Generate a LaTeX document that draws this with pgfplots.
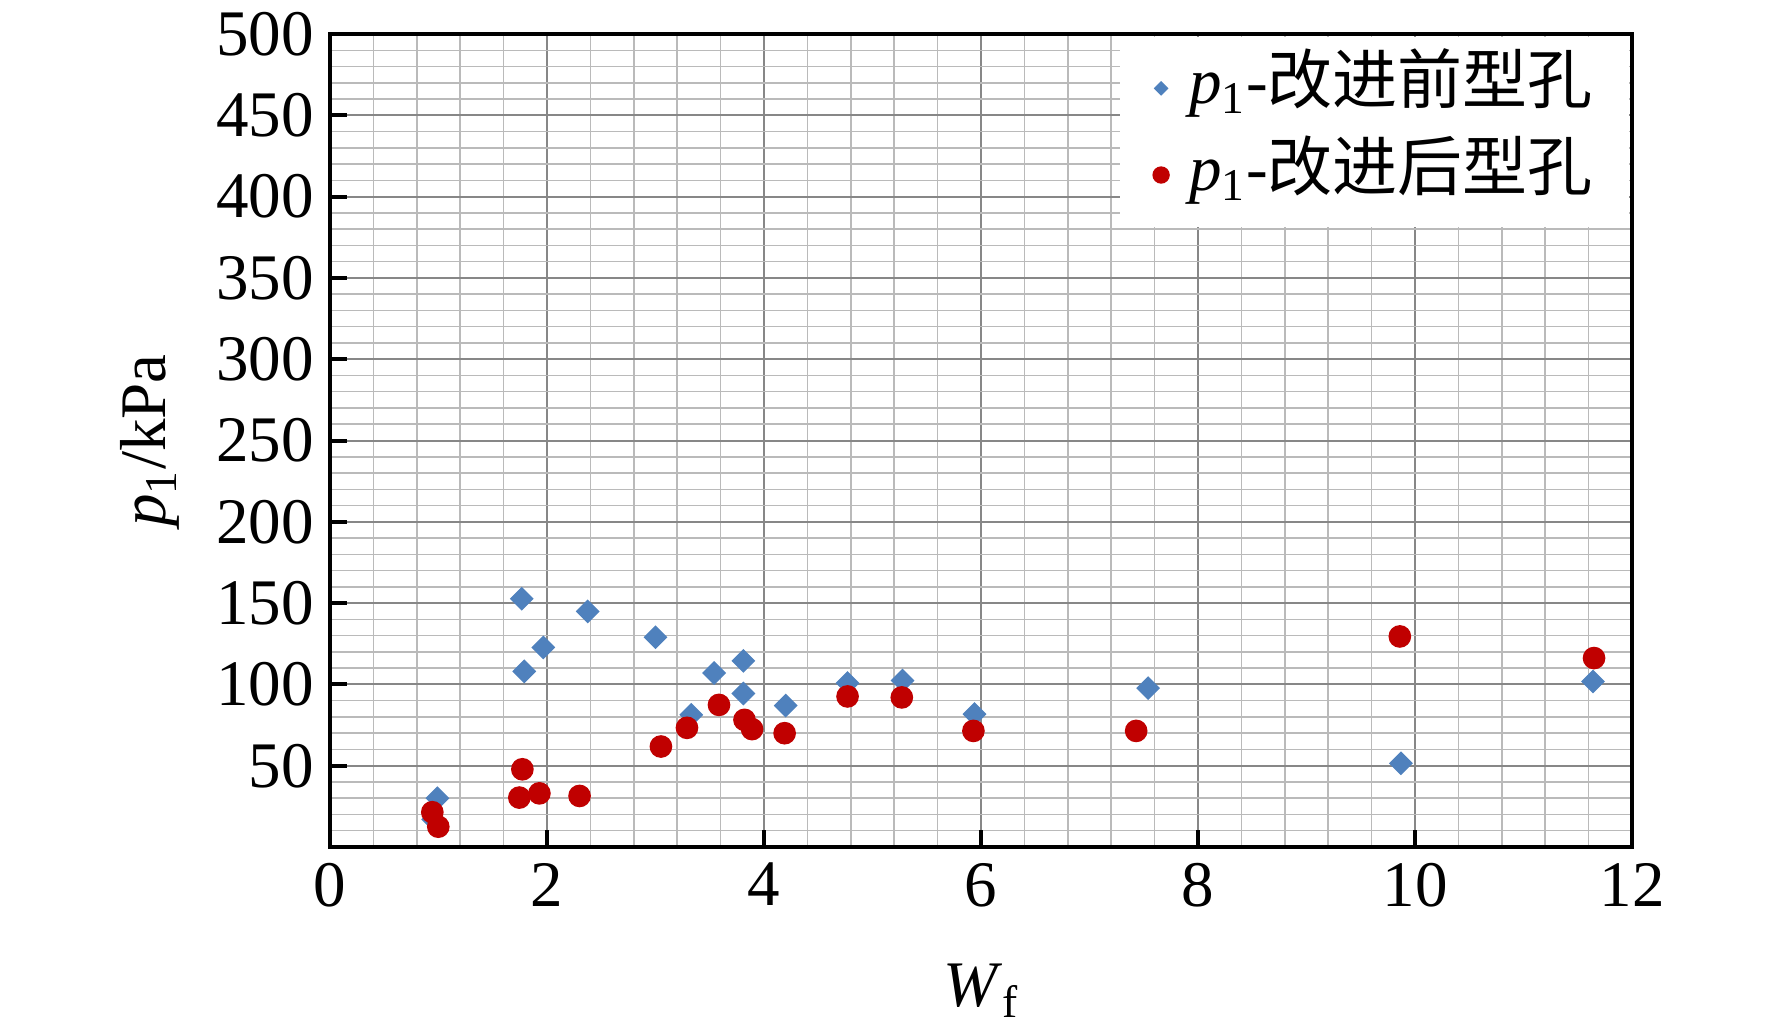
\documentclass[border=0pt]{standalone}
\usepackage{fontspec}
\setmainfont{Liberation Serif}
\newfontfamily\cjk{Noto Sans CJK SC}
\usepackage{pgfplots}
\pgfplotsset{compat=1.18}
\definecolor{myblue}{RGB}{79,129,189}
\definecolor{myred}{RGB}{192,0,0}
\newcommand{\fs}{\fontsize{19.5pt}{23pt}\selectfont}
\begin{document}
\begin{tikzpicture}
\useasboundingbox (0,0) rectangle (531.6pt,307.8pt);
\begin{axis}[
  at={(99pt,53.7pt)}, anchor=south west,
  scale only axis, width=390.6pt, height=243.9pt,
  xmin=0, xmax=12, ymin=0, ymax=500,
  xtick={0,2,4,6,8,10,12},
  ytick={50,100,150,200,250,300,350,400,450,500},
  minor xtick={0.4,0.8,1.2,1.6,2.4,2.8,3.2,3.6,4.4,4.8,5.2,5.6,6.4,6.8,7.2,7.6,8.4,8.8,9.2,9.6,10.4,10.8,11.2,11.6},
  minor ytick={10,20,30,40,60,70,80,90,110,120,130,140,160,170,180,190,210,220,230,240,260,270,280,290,310,320,330,340,360,370,380,390,410,420,430,440,460,470,480,490},
  grid=both,
  minor grid style={color=black!27, line width=0.45pt},
  major grid style={color=black!47, line width=0.6pt},
  tick pos=left, tick align=inside,
  major tick length=5pt, minor tick length=0pt,
  every tick/.style={black, line width=1.2pt},
  axis line style={line width=1.2pt},
  /pgf/number format/assume math mode=true,
  tick label style={font=\fs},
  xticklabel style={yshift=-1.3pt},
  yticklabel style={xshift=-1.3pt},
  xlabel={\textit{W}\textsubscript{f}},
  ylabel={\textit{p}\textsubscript{1}/kPa},
  label style={font=\fs},
  xlabel style={at={(axis description cs:0.5,-0.1966)}, anchor=base},
  ylabel style={at={(axis description cs:-0.138,0.5)}, anchor=center},
  legend style={at={(1,1)}, anchor=north east, xshift=-0.6pt, yshift=-0.6pt,
    draw=none, fill=white, font=\fs, inner xsep=10pt, inner ysep=5pt,
    row sep=5pt,
    nodes={inner sep=1pt, text height=14pt, text depth=5pt},
    /tikz/column 1/.style={column sep=5pt}},
  legend cell align=left,
]
\addlegendimage{only marks, mark=square*, mark size=1.35pt, mark options={rotate=45, fill=myblue, draw=myblue}}
\addlegendentry{\textit{p}\textsubscript{1}-{\cjk 改进前型孔}}
\addlegendimage{only marks, mark=*, mark size=2.4pt, mark options={fill=myred, draw=myred}}
\addlegendentry{\textit{p}\textsubscript{1}-{\cjk 改进后型孔}}
\addplot[only marks, mark=square*, mark size=2.33pt, mark options={rotate=45, fill=myblue, draw=myblue}, forget plot] coordinates {
(0.95,17) (0.99,30) (1.767,152.7) (1.79,108) (1.966,122.7) (2.375,144.9)
(3.0,129) (3.33,81.3) (3.54,107) (3.81,114.5) (3.81,94.4) (4.20,87)
(4.77,100.8) (5.277,102.4) (5.94,81.7) (7.54,97.7) (9.87,51.5) (11.64,101.8)
};
\addplot[only marks, mark=*, mark size=3.2pt, mark options={fill=myred, draw=myred}, forget plot] coordinates {
(0.943,21.4) (0.998,12.5) (1.773,47.8) (1.745,30.4) (1.93,33) (2.30,31.4)
(3.05,61.8) (3.29,73.3) (3.585,87.4) (3.82,78.2) (3.89,72.5) (4.19,70)
(4.77,92.6) (5.27,92) (5.93,71.4) (7.43,71.4) (9.86,129.5) (11.65,116.2)
};
\end{axis}
\end{tikzpicture}
\end{document}
